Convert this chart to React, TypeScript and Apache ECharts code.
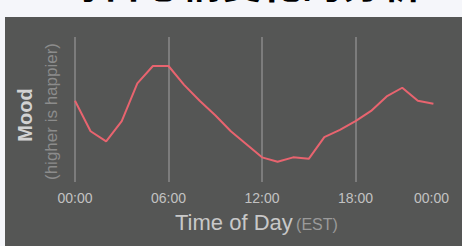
import React, { useEffect, useRef } from "react";
import * as echarts from "echarts";

const hours = [0, 1, 2, 3, 4, 5, 6, 7, 8, 9, 10, 11, 12, 13, 14, 15, 16, 17, 18, 19, 20, 21, 22, 23];
const mood = [56, 35, 28, 42, 68, 80, 80, 67, 56, 46, 35, 26, 17, 14, 17, 16, 31, 36, 42, 49, 59, 65, 56, 54];
const tickLabels = ["00:00", "06:00", "12:00", "18:00", "00:00"];
const pageTitle = "每日心情变化的分析";
const xName = "Time of Day";
const xUnit = "(EST)";
const yName = "Mood";
const yNote = "(higher is happier)";

const FONT = "'Liberation Sans', Arial, Helvetica, sans-serif";

export default function App() {
  const ref = useRef<HTMLDivElement>(null);
  useEffect(() => {
    if (!ref.current) return;
    const chart = echarts.init(ref.current, null, { renderer: "svg" });
    chart.setOption({
      animation: false,
      backgroundColor: "#555655",
      textStyle: { fontFamily: FONT },
      grid: { left: 70, right: 13, top: 20, bottom: 64 },
      xAxis: {
        type: "value",
        min: 0,
        max: 24,
        interval: 6,
        axisLine: { show: false },
        axisTick: { show: false },
        splitLine: {
          show: true,
          showMaxLine: false,
          lineStyle: { color: "#8a8a8a", width: 1.5 },
        },
        axisLabel: {
          formatter: (v: number) => tickLabels[Math.round(v / 6)],
          color: "#c2c2c2",
          fontSize: 14,
          margin: 9,
          fontFamily: FONT,
          alignMaxLabel: "right",
        },
      },
      yAxis: {
        type: "value",
        min: 0,
        max: 100,
        show: false,
      },
      series: [
        {
          type: "line",
          data: hours.map((h, i) => [h, mood[i]]),
          showSymbol: false,
          lineStyle: { color: "#e8646f", width: 2 },
          itemStyle: { color: "#e8646f" },
        },
      ],
      graphic: [
        {
          type: "text",
          x: 170,
          y: 205,
          style: {
            text: "{a|" + xName + "} {b|" + xUnit + "}",
            verticalAlign: "middle",
            rich: {
              a: { fontSize: 22, fill: "#c8c8c8", fontFamily: FONT },
              b: { fontSize: 16, fill: "#9a9a9a", fontFamily: FONT, padding: [5, 0, 0, 0] },
            },
          },
        },
        {
          type: "text",
          x: 20,
          y: 98,
          rotation: Math.PI / 2,
          style: {
            text: yName,
            fontSize: 20,
            fontWeight: "bold",
            fill: "#d2d2d2",
            fontFamily: FONT,
            align: "center",
            verticalAlign: "middle",
          },
        },
        {
          type: "text",
          x: 46.5,
          y: 94.5,
          rotation: Math.PI / 2,
          style: {
            text: yNote,
            fontSize: 17,
            fill: "#8c8c8c",
            fontFamily: FONT,
            align: "center",
            verticalAlign: "middle",
          },
        },
      ],
    });
    return () => chart.dispose();
  }, []);

  return (
    <div style={{ position: "fixed", left: 0, top: 0, width: 462, height: 246, background: "#f5f6fa", overflow: "hidden" }}>
      <div
        style={{
          position: "absolute",
          left: 62,
          top: -39,
          fontSize: 40,
          lineHeight: "41px",
          fontWeight: "bold",
          color: "#000",
          whiteSpace: "nowrap",
          fontFamily: "'Noto Sans CJK SC', sans-serif",
        }}
      >
        {pageTitle}
      </div>
      <div ref={ref} style={{ position: "absolute", left: 5, top: 17, width: 457, height: 229 }} />
    </div>
  );
}
